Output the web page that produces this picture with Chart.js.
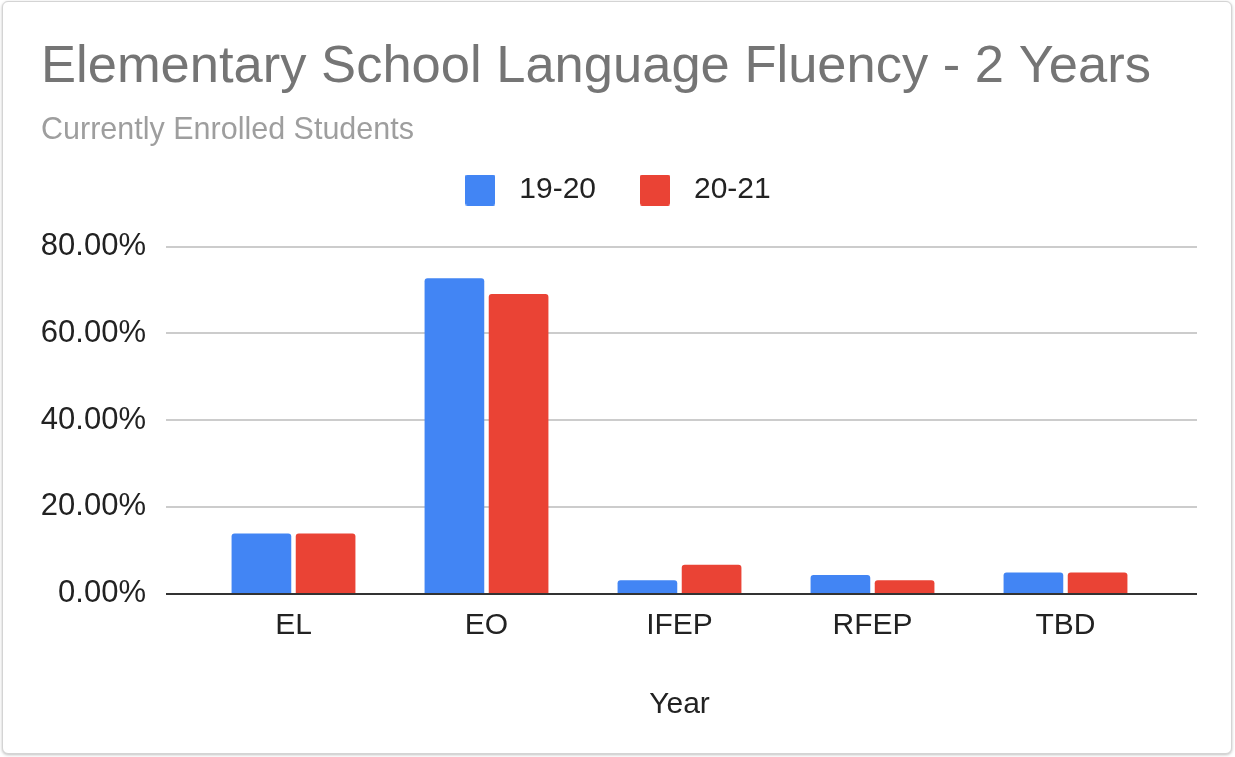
<!DOCTYPE html>
<html>
<head>
<meta charset="utf-8">
<script src="https://cdn.jsdelivr.net/npm/chart.js@4/dist/chart.umd.min.js"></script>
<style>
  html, body { margin: 0; padding: 0; background: #fff; }
  #frame { position: absolute; left: 2px; top: 1px; width: 1228px; height: 751px;
           border: 1px solid #d4d4d4; border-radius: 6px; box-shadow: 0 1px 3px rgba(0,0,0,0.25); background:#fff; }
  #wrap { position: absolute; left: 0; top: 0; width: 1235px; height: 757px; }
</style>
</head>
<body>
<div id="frame"></div>
<div id="wrap"><canvas id="c" width="1235" height="757"></canvas></div>
<script>
const categories = ['EL', 'EO', 'IFEP', 'RFEP', 'TBD'];
const series1920 = [13.9, 72.7, 3.1, 4.3, 4.9];
const series2021 = [13.9, 69.1, 6.7, 3.1, 4.9];
const seriesNames = ['19-20', '20-21'];
const seriesColors = ['#4285F4', '#EA4335'];
const yTicks = [0, 20, 40, 60, 80];

const FONT = "'Liberation Sans', Arial, sans-serif";

function swatch(color) {
  const c = document.createElement('canvas');
  c.width = 30; c.height = 31;
  const g = c.getContext('2d');
  g.fillStyle = color;
  g.beginPath();
  if (g.roundRect) g.roundRect(0, 0, 30, 31, 2); else g.rect(0, 0, 30, 31);
  g.fill();
  return c;
}
const swatches = seriesColors.map(swatch);

const gridPlugin = {
  id: 'extGrid',
  beforeInit(chart) {
    const lg = chart.legend;
    const fit = lg.fit;
    lg.fit = function () { fit.bind(lg)(); this.height += 31.7; };
    const draw = lg.draw;
    lg.draw = function () {
      const ctx = chart.ctx;
      ctx.save(); ctx.translate(12, 0);
      draw.bind(lg)();
      ctx.restore();
    };
  },
  beforeDatasetsDraw(chart) {
    const { ctx, chartArea, scales } = chart;
    const l = chartArea.left - 31, r = chartArea.right + 35;
    ctx.save();
    ctx.strokeStyle = '#cccccc';
    ctx.lineWidth = 2;
    yTicks.forEach(v => {
      if (v === 0) return;
      const y = Math.round(scales.y.getPixelForValue(v));
      ctx.beginPath(); ctx.moveTo(l, y); ctx.lineTo(r, y); ctx.stroke();
    });
    ctx.restore();
  },
  afterDatasetsDraw(chart) {
    const { ctx, chartArea, scales } = chart;
    const l = chartArea.left - 31, r = chartArea.right + 35;
    const y = Math.round(scales.y.getPixelForValue(0));
    ctx.save();
    ctx.strokeStyle = '#333333';
    ctx.lineWidth = 2;
    ctx.beginPath(); ctx.moveTo(l, y); ctx.lineTo(r, y); ctx.stroke();
    ctx.restore();
  }
};

new Chart(document.getElementById('c'), {
  type: 'bar',
  data: {
    labels: categories,
    datasets: [
      { label: seriesNames[0], data: series1920, backgroundColor: seriesColors[0] },
      { label: seriesNames[1], data: series2021, backgroundColor: seriesColors[1] }
    ]
  },
  options: {
    responsive: false,
    animation: false,
    devicePixelRatio: 1,
    layout: { padding: { left: 41, right: 73, top: 0, bottom: 34.7 } },
    datasets: { bar: { categoryPercentage: 0.665, barPercentage: 0.93,
      borderRadius: { topLeft: 3, topRight: 3, bottomLeft: 0, bottomRight: 0 }, borderSkipped: 'start' } },
    plugins: {
      tooltip: { enabled: false },
      title: { display: true, text: 'Elementary School Language Fluency - 2 Years', align: 'start',
        color: '#757575', font: { family: FONT, size: 52.5, weight: 'normal' }, padding: { top: 35.7, bottom: 0 } },
      subtitle: { display: true, text: 'Currently Enrolled Students', align: 'start',
        color: '#9e9e9e', font: { family: FONT, size: 30.5, weight: 'normal' }, padding: { top: 13.8, bottom: -9.1 } },
      legend: { display: true, position: 'top', align: 'center',
        labels: { color: '#222', font: { family: FONT, size: 30 }, usePointStyle: true,
          pointStyleWidth: 48, boxHeight: 30, padding: 35,
          generateLabels(chart) {
            const items = Chart.defaults.plugins.legend.labels.generateLabels(chart);
            items.forEach((it, i) => { it.pointStyle = swatches[i]; });
            return items;
          } } }
    },
    scales: {
      x: {
        grid: { display: false, drawTicks: false },
        border: { display: false },
        ticks: { color: '#222', font: { family: FONT, size: 30 }, padding: 14.3 },
        title: { display: true, text: 'Year', color: '#222', font: { family: FONT, size: 30 }, padding: { top: 28, bottom: 0 } }
      },
      y: {
        min: 0, max: 80,
        grid: { display: false, drawTicks: false },
        border: { display: false },
        afterFit: s => { s.width = 156; },
        ticks: { stepSize: 20, color: '#222', font: { family: FONT, size: 31 }, padding: 51,
          callback: v => v.toFixed(2) + '%' }
      }
    }
  },
  plugins: [gridPlugin]
});
</script>
</body>
</html>
